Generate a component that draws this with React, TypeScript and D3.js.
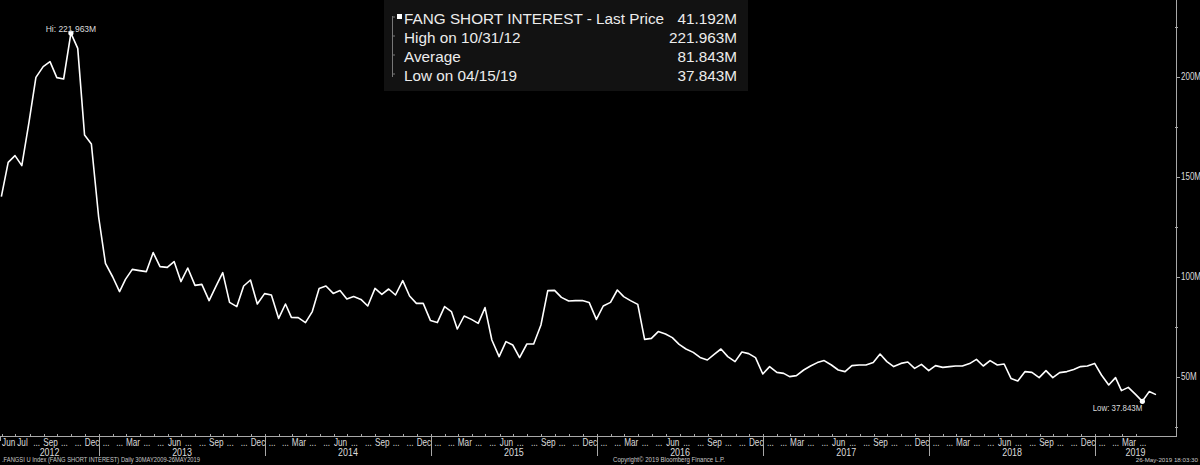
import React from "react";
import * as d3 from "d3";

const W = 1200;
const H = 465;

// semi-monthly short-interest settlement dates start at end of May 2012
const firstYear = 2012;
const firstMonthIndex = 4; // May
const shortInterestM = [
  140.2, 157.3, 160.7, 155.7, 177.7, 199.8, 205.2, 207.7, 199.7, 199.0,
  221.963, 214.3, 171.0, 166.5, 130.0, 106.8, 100.0, 92.7, 98.8, 103.8,
  103.2, 102.7, 112.2, 105.2, 104.8, 107.7, 97.7, 104.5, 95.8, 96.3,
  88.2, 95.3, 102.2, 87.3, 85.2, 95.5, 98.5, 86.5, 91.7, 91.0,
  79.3, 86.5, 79.8, 79.7, 77.2, 82.7, 94.3, 95.5, 91.8, 93.2,
  89.0, 90.2, 88.8, 85.5, 94.3, 91.3, 94.0, 91.0, 98.2, 90.5,
  86.8, 86.8, 78.2, 77.2, 85.2, 82.7, 74.0, 80.5, 78.8, 76.8,
  84.7, 68.5, 60.2, 67.7, 66.0, 59.7, 66.5, 66.5, 76.0, 93.2,
  93.3, 89.8, 88.0, 88.2, 88.2, 87.3, 78.8, 85.5, 87.3, 93.5,
  90.2, 88.2, 86.3, 68.8, 69.3, 72.7, 71.5, 69.7, 66.3, 64.0,
  62.3, 59.8, 58.5, 61.3, 64.0, 60.2, 57.7, 62.5, 61.7, 59.7,
  51.5, 55.2, 52.3, 51.8, 50.2, 50.7, 53.5, 55.5, 57.2, 58.2,
  56.0, 53.5, 52.7, 55.7, 56.0, 56.0, 57.3, 61.5, 57.7, 55.2,
  56.8, 57.5, 54.3, 56.3, 53.2, 55.7, 54.8, 55.2, 55.5, 55.5,
  56.7, 58.8, 55.5, 58.2, 56.0, 56.5, 49.3, 48.0, 52.7, 52.3,
  49.7, 53.2, 49.7, 52.2, 52.7, 53.8, 55.2, 55.5, 56.8, 51.0,
  46.0, 49.7, 43.2, 44.8, 41.3, 37.843, 42.7, 41.192,
];

const yMajorTicks = [50, 100, 150, 200];
const yMinorTicks = [25, 75, 125, 175, 225];
const years = [2012, 2013, 2014, 2015, 2016, 2017, 2018, 2019];
const monthNames = ["Jan", "Feb", "Mar", "Apr", "May", "Jun", "Jul", "Aug", "Sep", "Oct", "Nov", "Dec"];
const namedMonths = ["Mar", "Jun", "Sep", "Dec"];
const extraNamedMonths = ["2012-Jul"];
const legendLabels = ["FANG SHORT INTEREST - Last Price", "High on 10/31/12", "Average", "Low on 04/15/19"];
const legendValues = ["41.192M", "221.963M", "81.843M", "37.843M"];
const hiLabel = "Hi: 221.963M";
const lowLabel = "Low: 37.843M";
const footerLeft = ".FANGSI U Index (FANG SHORT INTEREST)  Daily 30MAY2009-26MAY2019";
const footerMid = "Copyright\u00A9 2019 Bloomberg Finance L.P.";
const footerRight = "26-May-2019 18:03:30";

const dates = shortInterestM.map((_, i) =>
  i % 2 === 0
    ? new Date(firstYear, firstMonthIndex + 1 + i / 2, 0)
    : new Date(firstYear, firstMonthIndex + (i + 1) / 2, 15)
);

const FONT = "'Liberation Sans', Arial, sans-serif";

export default function App() {
  const plotRight = 1176;
  const axisY = 436;
  const x = d3
    .scaleTime()
    .domain([new Date(2012, 4, 28), new Date(2019, 5, 28)])
    .range([0, plotRight]);
  const y = d3.scaleLinear().domain([21, 238.5]).range([435, 0]);

  const line = d3
    .line<number>()
    .x((_, i) => x(dates[i]))
    .y((d) => y(d))
    .curve(d3.curveLinear);

  // months from Jun 2012 to Apr 2019
  const months: { start: Date; end: Date; label: string }[] = [];
  for (let d = new Date(2012, 5, 1); d < new Date(2019, 4, 1); d = new Date(d.getFullYear(), d.getMonth() + 1, 1)) {
    const nm = monthNames[d.getMonth()];
    const key = `${d.getFullYear()}-${nm}`;
    const label = namedMonths.includes(nm) || extraNamedMonths.includes(key) ? nm : "...";
    months.push({ start: d, end: new Date(d.getFullYear(), d.getMonth() + 1, 1), label });
  }

  const iHi = shortInterestM.indexOf(d3.max(shortInterestM)!);
  const iLo = shortInterestM.indexOf(d3.min(shortInterestM)!);

  const axisColor = "#a8a8a8";
  const labelColor = "#dcdcdc";

  return (
    <svg
      width={W}
      height={H}
      style={{ position: "absolute", left: 0, top: 0, background: "#000" }}
      fontFamily={FONT}
    >
      <rect x={0} y={0} width={W} height={H} fill="#000" />

      {/* right axis */}
      <line x1={plotRight + 0.5} x2={plotRight + 0.5} y1={0} y2={axisY + 1} stroke={axisColor} strokeWidth={1} />
      {yMajorTicks.map((t) => (
        <g key={t}>
          <line x1={plotRight} x2={plotRight + 4} y1={Math.round(y(t)) + 0.5} y2={Math.round(y(t)) + 0.5} stroke={axisColor} />
          <text
            transform={`translate(${plotRight + 5},${y(t) + 3.4}) scale(0.8,1)`}
            fontSize={10}
            fill={labelColor}
          >
            {`${t}M`}
          </text>
        </g>
      ))}
      {yMinorTicks.map((t) => (
        <line key={t} x1={plotRight - 1} x2={plotRight + 2} y1={Math.round(y(t)) + 0.5} y2={Math.round(y(t)) + 0.5} stroke={axisColor} />
      ))}

      {/* bottom axis */}
      <line x1={0} x2={plotRight + 1} y1={axisY + 0.5} y2={axisY + 0.5} stroke={axisColor} strokeWidth={1} />
      <line x1={0.5} x2={0.5} y1={axisY} y2={axisY + 5} stroke={axisColor} />
      {months.map((m, i) => (
        <g key={i}>
          <line
            x1={Math.round(x(m.start)) + 0.5}
            x2={Math.round(x(m.start)) + 0.5}
            y1={axisY - 2}
            y2={axisY}
            stroke={axisColor}
          />
          <text
            transform={`translate(${(x(m.start) + x(m.end)) / 2},${axisY + 10}) scale(0.78,1)`}
            fontSize={10.5}
            textAnchor="middle"
            fill={labelColor}
          >
            {m.label}
          </text>
        </g>
      ))}
      {years.map((yr) => {
        const s = Math.max(0, x(new Date(yr, 0, 1)));
        const e = Math.min(plotRight, x(new Date(yr + 1, 0, 1)));
        return (
          <g key={yr}>
            {yr > years[0] && (
              <line x1={Math.round(s) + 0.5} x2={Math.round(s) + 0.5} y1={axisY} y2={axisY + 20} stroke={axisColor} />
            )}
            <text
              transform={`translate(${(s + e) / 2},${axisY + 19.5}) scale(0.85,1)`}
              fontSize={10.5}
              textAnchor="middle"
              fill={labelColor}
            >
              {yr}
            </text>
          </g>
        );
      })}

      {/* series line */}
      <path d={line(shortInterestM) || ""} fill="none" stroke="#ffffff" strokeWidth={1.6} strokeLinejoin="round" />

      {/* hi / low markers */}
      <circle cx={x(dates[iHi])} cy={y(shortInterestM[iHi])} r={2.6} fill="#fff" />
      <text x={x(dates[iHi])} y={y(shortInterestM[iHi]) - 1} fontSize={8.5} textAnchor="middle" fill={labelColor}>
        {hiLabel}
      </text>
      <circle cx={x(dates[iLo])} cy={y(shortInterestM[iLo])} r={2.6} fill="#fff" />
      <text
        transform={`translate(${x(dates[iLo])},${y(shortInterestM[iLo]) + 9.5}) scale(0.88,1)`}
        fontSize={9}
        textAnchor="end"
        fill={labelColor}
      >
        {lowLabel}
      </text>

      {/* legend box */}
      <rect x={384} y={0} width={364} height={91} fill="#121212" />
      <line x1={392.5} x2={392.5} y1={16} y2={77} stroke="#777" strokeWidth={1} />
      {legendLabels.map((lbl, i) => {
        const by = 23.5 + i * 19;
        return (
          <g key={i}>
            <line x1={392} x2={395} y1={by - 6.5} y2={by - 6.5} stroke="#777" />
            {i === 0 && <rect x={397} y={14} width={5} height={5} fill="#fff" />}
            <text x={404} y={by} fontSize={15.3} fill="#ececec">
              {lbl}
            </text>
            <text x={737} y={by} fontSize={15.3} fill="#ececec" textAnchor="end">
              {legendValues[i]}
            </text>
          </g>
        );
      })}

      {/* footer */}
      <text x={2} y={462} fontSize={7} fill="#c8c8c8" textLength={198} lengthAdjust="spacingAndGlyphs">
        {footerLeft}
      </text>
      <text x={613} y={462} fontSize={7} fill="#c8c8c8" textLength={112} lengthAdjust="spacingAndGlyphs">
        {footerMid}
      </text>
      <text x={1198} y={462} fontSize={6.2} fill="#c8c8c8" textAnchor="end">
        {footerRight}
      </text>
    </svg>
  );
}
